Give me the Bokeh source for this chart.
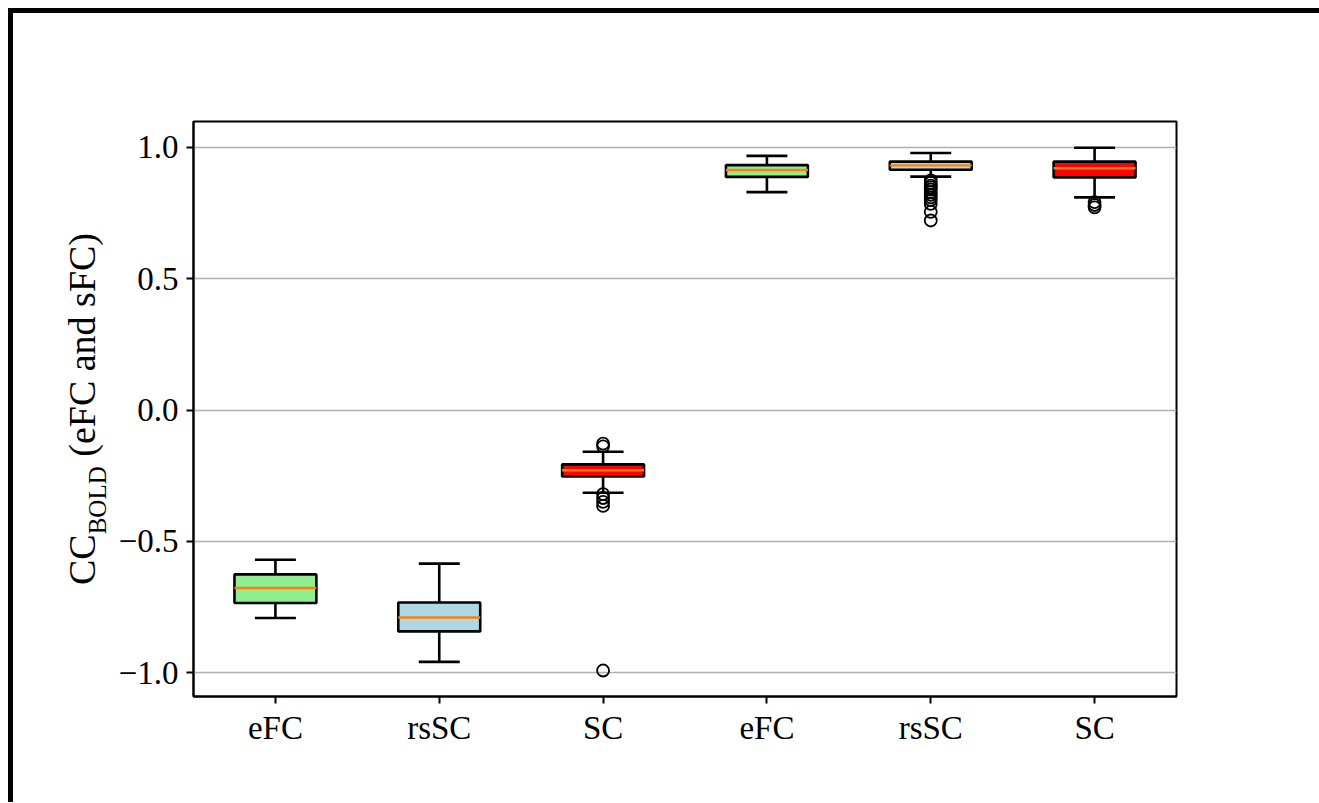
import numpy as np
from bokeh.plotting import figure
from bokeh.layouts import row
from bokeh.models import FixedTicker, Range1d
from bokeh.core.properties import value
from bokeh.embed import file_html
from bokeh.resources import INLINE

# ---- data ----
positions = [1, 2, 3, 4, 5, 6]
tick_labels = ["eFC", "rsSC", "SC", "eFC", "rsSC", "SC"]
box_colors = ["lightgreen", "lightblue", "red", "lightgreen", "lightblue", "red"]
whisker_low = [-0.792, -0.959, -0.315, 0.830, 0.889, 0.810]
q1 = [-0.735, -0.843, -0.253, 0.888, 0.915, 0.886]
median = [-0.678, -0.790, -0.229, 0.914, 0.932, 0.921]
q3 = [-0.626, -0.733, -0.207, 0.933, 0.946, 0.946]
whisker_high = [-0.570, -0.585, -0.159, 0.968, 0.979, 0.999]
outliers_box3 = [-0.128, -0.138, -0.320, -0.335, -0.350, -0.365, -0.992]
outliers_box5 = [0.875, 0.865, 0.855, 0.848, 0.840, 0.830, 0.820, 0.810, 0.800, 0.785, 0.755, 0.722]
outliers_box6 = [0.792, 0.781, 0.772]
y_ticks = [-1.0, -0.5, 0.0, 0.5, 1.0]
y_tick_labels = ["\u22121.0", "\u22120.5", "0.0", "0.5", "1.0"]
ylabel_main = "CC"
ylabel_sub = "BOLD"
ylabel_rest = "(eFC and sFC)"

FONT = "Liberation Serif"
box_w = 0.5
cap_w = 0.25
X0, X1 = 0.5, 6.5
Y0, Y1 = -1.091, 1.099
H = 789
ORIGIN = 13           # page offset of the canvases (margin + border)
LW_FIG = 100          # width of the strip holding the y label
W_MAIN = 1306 - LW_FIG
ML, MR, MT, MB = 80, 143, 108, 106

p = figure(width=W_MAIN, height=H, output_backend="svg", toolbar_location=None,
           x_range=Range1d(X0, X1), y_range=Range1d(Y0, Y1),
           min_border_left=ML, min_border_right=MR, min_border_top=MT, min_border_bottom=MB)
p.background_fill_color = "white"
p.border_fill_color = "white"
p.outline_line_color = "black"
p.outline_line_width = 2

# grid
p.xgrid.visible = False
p.ygrid.grid_line_color = "#b0b0b0"
p.ygrid.grid_line_width = 1.7
p.ygrid.ticker = FixedTicker(ticks=y_ticks)

# axes
p.xaxis.ticker = FixedTicker(ticks=positions)
p.xaxis.major_label_overrides = {pos: lab for pos, lab in zip(positions, tick_labels)}
p.yaxis.ticker = FixedTicker(ticks=y_ticks)
p.yaxis.major_label_overrides = {t: l for t, l in zip(y_ticks, y_tick_labels)}
for ax in (p.xaxis[0], p.yaxis[0]):
    ax.major_label_text_font = FONT
    ax.major_label_text_font_size = "33px"
    ax.major_label_text_color = "black"
    ax.major_tick_out = 7
    ax.major_tick_in = 0
    ax.major_tick_line_width = 2
    ax.major_tick_line_color = "black"
    ax.minor_tick_line_color = None
    ax.axis_line_color = "black"
    ax.axis_line_width = 2
p.xaxis.major_label_standoff = 6
p.yaxis.major_label_standoff = 8

LW = 2.6
xs = np.array(positions, dtype=float)
# whiskers
p.segment(x0=positions, y0=whisker_low, x1=positions, y1=q1, line_color="black", line_width=LW)
p.segment(x0=positions, y0=q3, x1=positions, y1=whisker_high, line_color="black", line_width=LW)
# caps
p.segment(x0=xs - cap_w / 2, y0=whisker_low, x1=xs + cap_w / 2, y1=whisker_low, line_color="black", line_width=LW)
p.segment(x0=xs - cap_w / 2, y0=whisker_high, x1=xs + cap_w / 2, y1=whisker_high, line_color="black", line_width=LW)
# boxes
p.vbar(x=positions, width=box_w, bottom=q1, top=q3, fill_color=box_colors, line_color="black", line_width=LW)
# medians
p.segment(x0=xs - box_w / 2, y0=median, x1=xs + box_w / 2, y1=median, line_color="#ff7f0e", line_width=2.4)
# outliers
for pos, outs in ((3, outliers_box3), (5, outliers_box5), (6, outliers_box6)):
    p.scatter(x=[pos] * len(outs), y=outs, marker="circle", size=12,
              fill_color=None, line_color="black", line_width=1.8)

# ---- y label strip: CC_BOLD (eFC and sFC) ----
# The strip's frame is aligned with the main frame by the row layout, so its
# data coordinates are set to page pixels (y stored negated so it grows upward).
frame_top = ORIGIN + MT
frame_bottom = ORIGIN + H - MB
lab = figure(width=LW_FIG, height=H, output_backend="svg", toolbar_location=None,
             x_range=Range1d(ORIGIN, ORIGIN + LW_FIG), y_range=Range1d(-frame_bottom, -frame_top),
             min_border_left=0, min_border_right=0, min_border_top=MT, min_border_bottom=MB)
lab.axis.visible = False
lab.grid.visible = False
lab.outline_line_color = None
lab.background_fill_color = "white"
lab.border_fill_color = "white"

lab_size = 38
sub_size = 25
main_cx = 81           # page x of main text column centre
sub_cx = 97            # page x of subscript column centre
len_main = 1.334 * lab_size
len_sub = 2.722 * sub_size
gap = 0.25 * lab_size
len_rest = 5.889 * lab_size
total = len_main + len_sub + gap + len_rest
bottom = (frame_top + frame_bottom) / 2 + total / 2   # page y of label's lower end

specs = [
    (ylabel_main, lab_size, main_cx, bottom - len_main / 2),
    (ylabel_sub, sub_size, sub_cx, bottom - len_main - len_sub / 2),
    (ylabel_rest, lab_size, main_cx, bottom - len_main - len_sub - gap - len_rest / 2),
]
for txt, size, cx, cy in specs:
    lab.text(x=[cx], y=[-cy], text=[txt], angle=np.pi / 2,
             text_font=value(FONT), text_font_size=value(f"{size}px"),
             text_baseline="middle", text_align="center", text_color="black")

layout = row(lab, p, spacing=0)
layout.styles = {"margin-left": "8px", "margin-top": "8px",
                 "border-top": "5px solid black", "border-left": "5px solid black"}

open("out.html", "w").write(file_html(layout, INLINE))
